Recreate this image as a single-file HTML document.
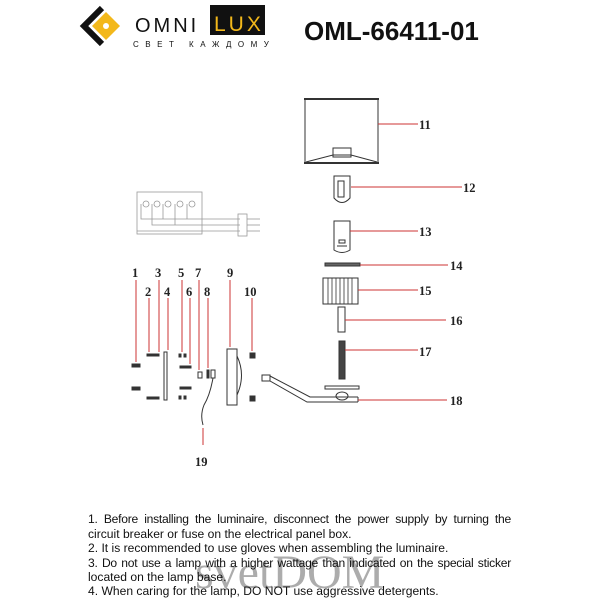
<!DOCTYPE html>
<html><head><meta charset="utf-8"><style>
body{margin:0;width:600px;height:600px;background:#fff;overflow:hidden;position:relative;font-family:"Liberation Sans",sans-serif}
.t{position:absolute;left:88px;width:423px;font-size:12.1px;line-height:14px;color:#111;white-space:nowrap}
.j{text-align:justify;text-align-last:justify;white-space:normal;letter-spacing:-0.25px;word-spacing:-1px}
</style></head><body>
<svg width="600" height="600" style="position:absolute;left:0;top:0" font-family="Liberation Sans, sans-serif">
<polyline points="102,8 84,26 102,44" fill="none" stroke="#111" stroke-width="6"/>
<polygon points="106,12 120,26 106,40 92,26" fill="#f3b81b"/>
<circle cx="106" cy="26" r="3" fill="#fff"/>
<text x="135" y="32" font-size="20" letter-spacing="3" fill="#111">OMNI</text>
<rect x="210" y="5" width="55" height="30" fill="#111"/>
<text x="214" y="31" font-size="21" letter-spacing="3" fill="#f3b81b">LUX</text>
<text x="133" y="47" font-size="8" letter-spacing="6.5" fill="#111">СВЕТ КАЖДОМУ</text>
<text x="304" y="40" font-size="26" font-weight="bold" fill="#111">OML-66411-01</text>
<g stroke="#999" stroke-width="0.8" fill="none">
<rect x="137" y="192" width="65" height="42"/>
<circle cx="146" cy="204" r="3"/><circle cx="157" cy="204" r="3"/><circle cx="168" cy="204" r="3"/><circle cx="180" cy="204" r="3"/><circle cx="192" cy="204" r="3"/>
<polyline points="141,204 141,219 240,219"/><polyline points="152,204 152,225 240,225"/><polyline points="163,204 163,219"/><polyline points="175,204 175,225"/><polyline points="187,204 187,219"/>
<line x1="137" y1="231" x2="240" y2="231"/>
<rect x="238" y="214" width="9" height="22"/>
<line x1="247" y1="219" x2="260" y2="219"/><line x1="247" y1="225" x2="260" y2="225"/><line x1="247" y1="231" x2="260" y2="231"/>
</g>
<g stroke="#333" stroke-width="1" fill="none">
<rect x="305" y="99" width="73" height="64"/>
<line x1="304" y1="99" x2="379" y2="99" stroke-width="2"/>
<line x1="304" y1="163" x2="379" y2="163" stroke-width="2"/>
<rect x="333" y="148" width="18" height="9"/>
<polyline points="306,162 333,155 351,155 377,162"/>
<path d="M334,176 H350 V198 Q342,207 334,198 Z"/>
<rect x="338" y="181" width="6" height="16"/>
<path d="M334,221 H350 V250 Q342,255 334,250 Z"/>
<rect x="339" y="240" width="6" height="3"/>
<line x1="337" y1="246" x2="347" y2="246"/>
<rect x="325" y="263" width="35" height="3" fill="#666"/>
<rect x="323" y="278" width="35" height="26"/>
<g stroke-width="0.8"><line x1="328" y1="278" x2="328" y2="304"/><line x1="332" y1="278" x2="332" y2="304"/><line x1="336" y1="278" x2="336" y2="304"/><line x1="340" y1="278" x2="340" y2="304"/><line x1="344" y1="278" x2="344" y2="304"/><line x1="348" y1="278" x2="348" y2="304"/><line x1="352" y1="278" x2="352" y2="304"/></g>
<rect x="338" y="307" width="7" height="25"/>
<rect x="339" y="341" width="6" height="38" fill="#444"/>
<rect x="325" y="386" width="34" height="3"/>
<ellipse cx="342" cy="396" rx="6" ry="4"/>
<rect x="262" y="375" width="8" height="6"/>
<polyline points="270,376 310,397 358,397"/>
<polyline points="270,381 307,402 358,402"/>
<line x1="358" y1="397" x2="358" y2="402"/>
</g>
<g stroke="#333" stroke-width="1" fill="#333">
<rect x="132" y="364" width="8" height="3"/><rect x="132" y="387" width="8" height="3"/>
<rect x="147" y="354" width="12" height="2"/><rect x="147" y="397" width="12" height="2"/>
<rect x="164" y="352" width="3" height="48" fill="none"/>
<rect x="179" y="354" width="2" height="3"/><rect x="184" y="354" width="2" height="3"/><rect x="179" y="396" width="2" height="3"/><rect x="184" y="396" width="2" height="3"/>
<rect x="180" y="366" width="11" height="2"/><rect x="180" y="387" width="11" height="2"/>
<rect x="198" y="372" width="4" height="6" fill="none"/>
<rect x="207" y="370" width="2" height="8"/><rect x="211" y="370" width="4" height="8" fill="none"/>
<rect x="227" y="349" width="10" height="56" fill="none"/>
<path d="M237,356 Q246,375 237,395" fill="none"/>
<rect x="250" y="353" width="5" height="5"/><rect x="250" y="396" width="5" height="5"/>
<path d="M213,378 Q210,395 204,405 Q200,415 203,425" fill="none"/>
</g>
<g stroke="#c33" stroke-width="1" fill="#c33">
<line x1="378" y1="124" x2="418" y2="124"/><line x1="351" y1="187" x2="462" y2="187"/><line x1="350" y1="231" x2="418" y2="231"/>
<line x1="360" y1="265" x2="448" y2="265"/><line x1="358" y1="290" x2="418" y2="290"/><line x1="345" y1="320" x2="446" y2="320"/>
<line x1="345" y1="350" x2="418" y2="350"/><line x1="358" y1="400" x2="447" y2="400"/>
<line x1="136" y1="280" x2="136" y2="362"/><line x1="149" y1="298" x2="149" y2="352"/><line x1="159" y1="280" x2="159" y2="352"/><line x1="168" y1="298" x2="168" y2="350"/>
<line x1="182" y1="280" x2="182" y2="352"/><line x1="190" y1="298" x2="190" y2="364"/><line x1="199" y1="280" x2="199" y2="370"/><line x1="208" y1="298" x2="208" y2="368"/>
<line x1="230" y1="280" x2="230" y2="347"/><line x1="252" y1="298" x2="252" y2="351"/><line x1="203" y1="445" x2="203" y2="428"/>
</g>
<g font-size="12.5" font-weight="bold" fill="#222" font-family="Liberation Serif, serif">
<text x="419" y="129">11</text><text x="463" y="192">12</text><text x="419" y="236">13</text><text x="450" y="270">14</text>
<text x="419" y="295">15</text><text x="450" y="325">16</text><text x="419" y="356">17</text><text x="450" y="405">18</text>
<text x="132" y="277">1</text><text x="145" y="296">2</text><text x="155" y="277">3</text><text x="164" y="296">4</text><text x="178" y="277">5</text><text x="186" y="296">6</text><text x="195" y="277">7</text><text x="204" y="296">8</text><text x="227" y="277">9</text><text x="244" y="296">10</text><text x="195" y="466">19</text>
</g>
<text x="195" y="588" font-size="48" font-family="Liberation Serif, serif" fill="#333" opacity="0.4">svetDOM</text>
</svg>
<div class="t j" style="top:512px">1. Before installing the luminaire, disconnect the power supply by turning the</div>
<div class="t" style="top:527px">circuit breaker or fuse on the electrical panel box.</div>
<div class="t" style="top:541px">2. It is recommended to use gloves when assembling the luminaire.</div>
<div class="t j" style="top:556px">3. Do not use a lamp with a higher wattage than indicated on the special sticker</div>
<div class="t" style="top:570px">located on the lamp base.</div>
<div class="t" style="top:584px">4. When caring for the lamp, DO NOT use aggressive detergents.</div>
</body></html>
